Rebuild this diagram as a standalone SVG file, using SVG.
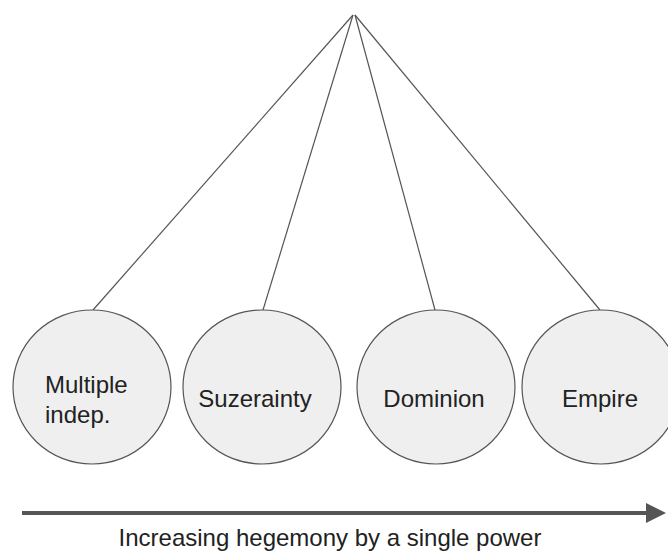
<svg xmlns="http://www.w3.org/2000/svg" width="668" height="552" viewBox="0 0 668 552">
<defs>
<style>
.node{fill:#efefef;stroke:#555;stroke-width:1.2}
.lbl{font-family:"Liberation Sans",Arial,sans-serif;font-size:24px;fill:#222}
.conn{stroke:#555;stroke-width:1.2;fill:none}
</style>
<marker id="ah" markerWidth="5" markerHeight="5" refX="1" refY="2.5" orient="auto" markerUnits="strokeWidth"><path d="M0,0 L5,2.5 L0,5 Z" fill="#555"/></marker>
</defs>
<rect width="668" height="552" fill="#fff"/>
<g id="connectors">
<line class="conn" x1="353" y1="15" x2="93" y2="310"/>
<line class="conn" x1="353" y1="15" x2="263" y2="310"/>
<line class="conn" x1="355" y1="15" x2="435" y2="310"/>
<line class="conn" x1="355" y1="15" x2="600" y2="310"/>
</g>
<g id="n1"><ellipse class="node" cx="92" cy="387" rx="79" ry="77"/><text class="lbl" x="45" y="393">Multiple</text><text class="lbl" x="45" y="423">indep.</text></g>
<g id="n2"><ellipse class="node" cx="262" cy="387" rx="79" ry="77"/><text class="lbl" x="255" y="407" text-anchor="middle">Suzerainty</text></g>
<g id="n3"><ellipse class="node" cx="436" cy="387" rx="79" ry="77"/><text class="lbl" x="434" y="407" text-anchor="middle">Dominion</text></g>
<g id="n4"><ellipse class="node" cx="601" cy="387" rx="79" ry="77"/><text class="lbl" x="600" y="407" text-anchor="middle">Empire</text></g>
<g id="axis">
<line x1="22" y1="513" x2="650" y2="513" stroke="#555" stroke-width="4" marker-end="url(#ah)"/>
<text class="lbl" x="330" y="546" text-anchor="middle">Increasing hegemony by a single power</text>
</g>
</svg>
